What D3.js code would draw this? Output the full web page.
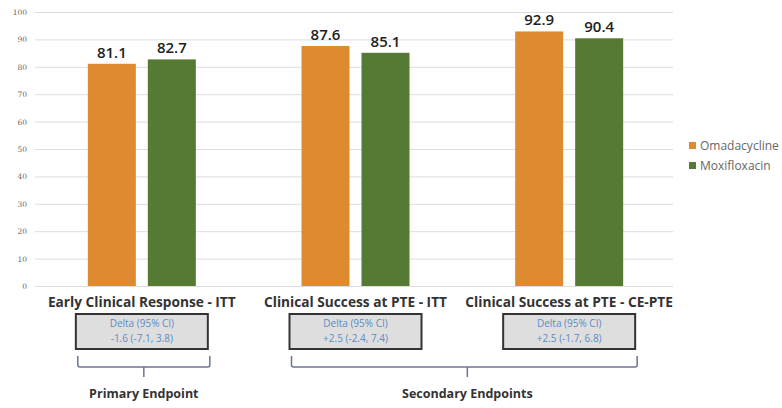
<!DOCTYPE html>
<html><head><meta charset="utf-8">
<script src="https://cdn.jsdelivr.net/npm/d3@7"></script>
<style>body{margin:0;background:#fff;}svg{display:block;}</style>
</head><body>
<svg id="chart" width="782" height="408"></svg>
<script>
const categories = ["Early Clinical Response - ITT", "Clinical Success at PTE - ITT", "Clinical Success at PTE - CE-PTE"];
const seriesNames = ["Omadacycline", "Moxifloxacin"];
const omadacycline = [81.1, 87.6, 92.9];
const moxifloxacin = [82.7, 85.1, 90.4];
const deltaTitle = "Delta (95% CI)";
const deltaValues = ["-1.6 (-7.1, 3.8)", "+2.5 (-2.4, 7.4)", "+2.5 (-1.7, 6.8)"];
const endpointGroups = [
  {label: "Primary Endpoint", from: 0, to: 0},
  {label: "Secondary Endpoints", from: 1, to: 2}
];
const yTicks = [0, 10, 20, 30, 40, 50, 60, 70, 80, 90, 100];
const colors = ["#de8a30", "#557a33"];

const svg = d3.select("#chart");
const x0 = d3.scaleBand().domain(categories).range([35, 676]).paddingInner(0).paddingOuter(0);
const x1 = d3.scaleBand().domain(seriesNames).range([0, 108]).paddingInner(0.2).paddingOuter(0);
const y = d3.scaleLinear().domain([0, 100]).range([286, 12]);
const series = [omadacycline, moxifloxacin];

// gridlines
const yAxis = d3.axisLeft(y).tickValues(yTicks).tickSize(-(673 - 35)).tickPadding(8);
const gAxis = svg.append("g").attr("transform", "translate(35,0)").call(yAxis);
gAxis.select(".domain").remove();
gAxis.selectAll(".tick line").attr("stroke", "#dcdcdc").attr("stroke-width", 1);
gAxis.selectAll(".tick text").attr("fill", "#666").style("font-family", "DejaVu Serif, serif").style("font-size", "7.5px");

// bars
const groups = svg.append("g").selectAll("g").data(categories).join("g")
  .attr("transform", d => `translate(${x0(d) + x0.bandwidth()/2 - 54},0)`);
groups.selectAll("rect").data((d, i) => seriesNames.map((s, j) => ({s, v: series[j][i], j})))
  .join("rect")
  .attr("x", d => x1(d.s)).attr("width", x1.bandwidth())
  .attr("y", d => y(d.v)).attr("height", d => y(0) - y(d.v))
  .attr("fill", d => colors[d.j]);
groups.selectAll("text.val").data((d, i) => seriesNames.map((s, j) => ({s, v: series[j][i], j})))
  .join("text").attr("class", "val")
  .attr("x", d => x1(d.s) + x1.bandwidth()/2).attr("y", d => y(d.v) - 6)
  .attr("text-anchor", "middle")
  .style("font-family", "Open Sans, sans-serif").style("font-weight", "600").style("font-size", "15px")
  .attr("fill", "#222").text(d => d.v.toFixed(1));

// category labels
svg.append("g").selectAll("text").data(categories).join("text")
  .attr("x", d => x0(d) + x0.bandwidth()/2).attr("y", 307)
  .attr("text-anchor", "middle")
  .style("font-family", "Open Sans, sans-serif").style("font-weight", "700").style("font-size", "13.7px")
  .attr("fill", "#333").text(d => d);

// delta boxes
const boxes = svg.append("g").selectAll("g").data(categories).join("g")
  .attr("transform", d => `translate(${x0(d) + x0.bandwidth()/2},0)`);
boxes.append("rect").attr("x", -66).attr("y", 314).attr("width", 132).attr("height", 35)
  .attr("fill", "#dedede").attr("stroke", "#333").attr("stroke-width", 2);
boxes.append("text").attr("y", 327).attr("text-anchor", "middle")
  .style("font-family", "Open Sans, sans-serif").style("font-size", "10px").attr("fill", "#5b8cc6").text(deltaTitle);
boxes.append("text").attr("y", 342).attr("text-anchor", "middle")
  .style("font-family", "Open Sans, sans-serif").style("font-size", "10px").attr("fill", "#5b8cc6").text((d, i) => deltaValues[i]);

// braces
const bg = svg.append("g").selectAll("g").data(endpointGroups).join("g");
bg.each(function(d) {
  const g = d3.select(this);
  const left = x0(categories[d.from]) + x0.bandwidth()/2 - 64;
  const right = x0(categories[d.to]) + x0.bandwidth()/2 + 68;
  const mid = (d.from === d.to) ? (left + right)/2 : (x0(categories[d.from]) + x0.bandwidth()/2 + x0(categories[d.to]) + x0.bandwidth()/2)/2 + 5;
  const p = d3.path();
  p.moveTo(left, 356); p.lineTo(left, 365); p.quadraticCurveTo(left, 367, left + 2, 367);
  p.lineTo(right - 2, 367); p.quadraticCurveTo(right, 367, right, 365); p.lineTo(right, 356);
  p.moveTo(mid, 367); p.lineTo(mid, 377);
  g.append("path").attr("d", p.toString()).attr("fill", "none").attr("stroke", "#6a7594").attr("stroke-width", 1.5);
  g.append("text").attr("x", mid).attr("y", 398).attr("text-anchor", "middle")
    .style("font-family", "Open Sans, sans-serif").style("font-weight", "700").style("font-size", "12.5px")
    .attr("fill", "#333").text(d.label);
});

// legend
const leg = svg.append("g").selectAll("g").data(seriesNames).join("g")
  .attr("transform", (d, i) => `translate(689,${142 + i*20})`);
leg.append("rect").attr("width", 7).attr("height", 7).attr("fill", (d, i) => colors[i]);
leg.append("text").attr("x", 11).attr("y", 8)
  .style("font-family", "Open Sans, sans-serif").style("font-size", "12px").attr("fill", "#666").text(d => d);
</script>
</body></html>
